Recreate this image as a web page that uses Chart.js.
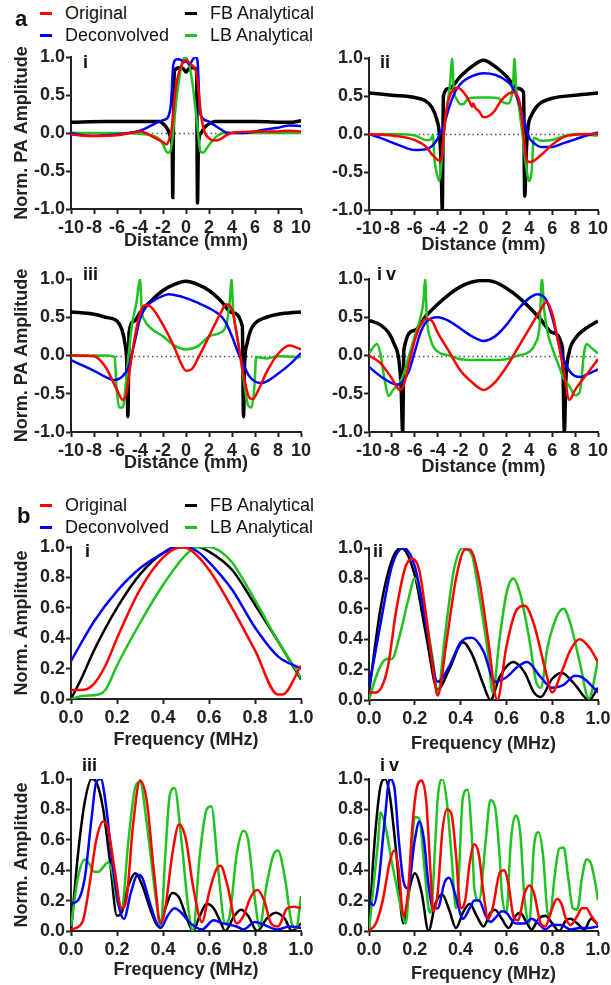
<!DOCTYPE html>
<html>
<head>
<meta charset="utf-8">
<script src="https://cdn.jsdelivr.net/npm/chart.js@4.4.1/dist/chart.umd.min.js"></script>
<style>
  body { margin: 0; background: #fff; width: 611px; height: 985px; position: relative; overflow: hidden;
         font-family: "Liberation Sans", Arial, sans-serif; color: #111; }
  canvas { position: absolute; }
  .lab { position: absolute; font-weight: bold; line-height: 1; white-space: nowrap; }
  .leg { position: absolute; font-size: 18px; line-height: 1; white-space: nowrap; }
  .leg i { display: inline-block; width: 12px; height: 2.5px; vertical-align: middle; margin-right: 13px; position: relative; top: -1px; }
</style>
</head>
<body>

<script>
// ---- data (x, y pairs) ----

// a-i
const a1Orig = [[-10,-0.02],[-8,-0.04],[-6,-0.03],[-4.5,0.01],[-4,0.02],[-3.5,0],[-3,-0.04],[-2.5,-0.08],[-2,-0.12],[-1.7,-0.15],[-1.4,-0.05],[-1.2,0.1],[-1,0.45],[-0.7,0.75],[-0.3,0.92],[0,0.96],[0.3,0.92],[0.6,0.88],[0.9,0.8],[1.1,0.55],[1.3,0.25],[1.6,0.02],[2,-0.07],[2.5,-0.1],[3,-0.08],[3.5,-0.03],[4,0],[6,0.02],[8,0.02],[9,0.03],[10,0.02]];
const a1Deconv = [[-10,0],[-9,-0.03],[-8,-0.04],[-7,-0.03],[-6,-0.02],[-5,0],[-4,0.03],[-3,0.1],[-2,0.17],[-1.6,0.2],[-1.3,0.4],[-1.1,0.9],[-0.8,0.97],[-0.4,0.96],[-0.2,0.93],[0,0.95],[0.3,0.9],[0.6,0.97],[0.85,1.0],[1.0,0.95],[1.2,0.3],[1.4,0.2],[2,0.15],[2.5,0.1],[3,0.05],[3.7,0],[5,0],[6,0.02],[7,0.05],[8,0.07],[9,0.1],[10,0.09]];
const a1FB = [[-10,0.14],[-7,0.15],[-4,0.15],[-2.3,0.15],[-1.9,0.11],[-1.6,0.05],[-1.35,-0.05],[-1.2,-0.2],[-1.15,-0.85],[-1.08,0.3],[-1.0,0.82],[-0.6,0.86],[-0.25,0.85],[0,0.8],[0.25,0.85],[0.6,0.86],[0.92,0.83],[1.0,-0.92],[1.08,-0.15],[1.3,0.0],[1.6,0.07],[2.0,0.12],[2.5,0.15],[6,0.15],[9,0.14],[10,0.16]];
const a1LB = [[-10,0],[-6,0],[-4,-0.01],[-3,-0.03],[-2.5,-0.06],[-2.1,-0.12],[-1.8,-0.22],[-1.6,-0.26],[-1.4,-0.25],[-1.2,-0.1],[-1.0,0.2],[-0.7,0.6],[-0.4,0.88],[-0.1,1.0],[0.2,0.93],[0.5,0.72],[0.8,0.35],[1.05,0],[1.25,-0.24],[1.5,-0.26],[1.8,-0.2],[2.2,-0.12],[2.7,-0.04],[3.3,0],[10,0]];

// a-ii
const a2Orig = [[-10,0],[-8,-0.02],[-7,-0.04],[-6,-0.08],[-5,-0.17],[-4.5,-0.27],[-4,-0.34],[-3.7,-0.35],[-3.5,-0.05],[-3.2,0.35],[-2.8,0.55],[-2.3,0.61],[-2,0.59],[-1.5,0.5],[-1.2,0.42],[-1,0.36],[-0.9,0.4],[-0.7,0.34],[-0.4,0.3],[0,0.22],[0.5,0.24],[1,0.31],[1.5,0.43],[2,0.51],[2.5,0.55],[2.9,0.52],[3.2,0.38],[3.5,0],[3.7,-0.3],[4,-0.37],[4.3,-0.36],[5,-0.28],[6,-0.14],[7,-0.04],[8,-0.01],[10,0]];
const a2Deconv = [[-10,0],[-9,-0.05],[-8,-0.11],[-7,-0.17],[-6,-0.21],[-5,-0.2],[-4.5,-0.16],[-4,-0.06],[-3.5,0.1],[-3,0.35],[-2.5,0.55],[-2,0.66],[-1,0.76],[0,0.8],[1,0.78],[2,0.7],[2.5,0.62],[3,0.45],[3.5,0.2],[4,-0.05],[4.5,-0.13],[5,-0.17],[6,-0.17],[7,-0.12],[8,-0.07],[9,-0.02],[10,0.02]];
const a2FB = [[-10,0.54],[-8,0.51],[-6,0.48],[-5,0.43],[-4.5,0.35],[-4.1,0.2],[-3.85,0],[-3.7,-0.4],[-3.6,-1.0],[-3.5,0.5],[-3,0.6],[-2,0.76],[-1,0.89],[0,0.97],[1,0.89],[2,0.76],[3,0.6],[3.5,0.55],[3.6,-0.82],[3.75,-0.2],[3.9,0.1],[4.2,0.25],[4.6,0.35],[5,0.41],[6,0.47],[8,0.51],[10,0.54]];
const a2LB = [[-10,-0.01],[-8,0],[-6,-0.02],[-5,-0.08],[-4.6,-0.07],[-4.4,-0.01],[-4.3,-0.3],[-4.1,-0.5],[-3.85,-0.62],[-3.65,-0.35],[-3.4,0.1],[-3.1,0.45],[-2.9,0.7],[-2.75,1.0],[-2.6,0.6],[-2.3,0.45],[-2,0.39],[-1.7,0.4],[-1.3,0.47],[-0.5,0.48],[0.5,0.48],[1.3,0.47],[1.7,0.42],[2.1,0.4],[2.4,0.46],[2.6,0.7],[2.7,1.0],[2.85,0.6],[3.1,0.35],[3.4,0.0],[3.7,-0.4],[4.0,-0.62],[4.2,-0.5],[4.4,-0.05],[4.6,-0.06],[5,-0.09],[6,-0.08],[7,-0.03],[8,0],[10,-0.02]];

// a-iii
const a3Orig = [[-10,0],[-8,-0.01],[-7,-0.15],[-6,-0.45],[-5.5,-0.58],[-5.2,-0.5],[-4.9,-0.2],[-4.5,0.2],[-4,0.55],[-3.5,0.66],[-3,0.63],[-2,0.4],[-1,0.1],[-0.5,-0.08],[0,-0.2],[0.5,-0.18],[1,-0.05],[2,0.25],[3,0.55],[3.5,0.67],[4,0.6],[4.5,0.2],[5,-0.25],[5.5,-0.55],[5.8,-0.57],[6.3,-0.45],[7,-0.22],[8,0.02],[9,0.13],[9.5,0.11],[10,0.08]];
const a3Deconv = [[-10,-0.06],[-9,-0.13],[-8,-0.2],[-7,-0.28],[-6.3,-0.32],[-5.5,-0.27],[-5,-0.15],[-4.5,0.15],[-4,0.48],[-3.5,0.63],[-3,0.7],[-2,0.78],[-1.5,0.8],[-1,0.79],[0,0.75],[1,0.69],[2,0.62],[3,0.52],[3.5,0.42],[4,0.25],[4.5,0.05],[5,-0.12],[5.5,-0.27],[6,-0.34],[6.5,-0.36],[7,-0.34],[8,-0.24],[9,-0.12],[10,0.03]];
const a3FB = [[-10,0.57],[-8,0.54],[-7,0.5],[-6,0.45],[-5.6,0.35],[-5.3,0.15],[-5.15,-0.1],[-5.05,-0.8],[-4.95,0.3],[-4.5,0.45],[-4,0.56],[-3,0.72],[-2,0.85],[-1,0.93],[0,0.97],[1,0.93],[2,0.85],[3,0.72],[4,0.56],[4.9,0.38],[5.0,-0.8],[5.1,-0.1],[5.3,0.15],[5.6,0.32],[6,0.42],[7,0.5],[8,0.54],[10,0.57]];
const a3LB = [[-10,0],[-7,0],[-6.2,-0.02],[-6.05,-0.4],[-5.8,-0.68],[-5.5,-0.68],[-5.25,-0.4],[-5,0],[-4.7,0.4],[-4.3,0.7],[-4.0,1.0],[-3.85,0.6],[-3.6,0.46],[-3,0.35],[-2,0.25],[-1,0.13],[0,0.08],[1,0.12],[2,0.25],[3,0.3],[3.5,0.4],[3.8,0.7],[3.95,1.0],[4.1,0.6],[4.5,0.2],[5,-0.3],[5.4,-0.65],[5.7,-0.68],[5.95,-0.4],[6.1,-0.02],[7,-0.04],[8,-0.01],[10,-0.02]];

// a-iv
const a4Orig = [[-10,0],[-9,-0.1],[-8,-0.3],[-7.3,-0.45],[-7,-0.4],[-6.5,-0.1],[-6,0.2],[-5.5,0.4],[-5,0.48],[-4.5,0.45],[-4,0.3],[-3,0.05],[-2,-0.2],[-1,-0.35],[0,-0.45],[1,-0.35],[2,-0.15],[3,0.1],[4,0.35],[5,0.6],[5.5,0.7],[6,0.55],[6.5,0.2],[7,-0.2],[7.5,-0.58],[8,-0.45],[9,-0.25],[10,-0.05]];
const a4Deconv = [[-10,-0.15],[-9,-0.27],[-8,-0.36],[-7.5,-0.38],[-7,-0.33],[-6.5,-0.2],[-6,0.05],[-5.5,0.3],[-5,0.44],[-4,0.5],[-3,0.45],[-2,0.35],[-1,0.25],[0,0.19],[1,0.25],[2,0.4],[3,0.6],[4,0.75],[4.7,0.8],[5.5,0.72],[6,0.5],[6.5,0.2],[7,-0.05],[7.5,-0.2],[8,-0.27],[8.5,-0.28],[9,-0.25],[10,-0.18]];
const a4FB = [[-10,0.46],[-9,0.4],[-8.3,0.3],[-7.8,0.15],[-7.4,-0.05],[-7.2,-0.4],[-7.06,-1.0],[-6.95,0.08],[-6,0.33],[-5,0.52],[-4,0.67],[-3,0.8],[-2,0.9],[-1,0.96],[0,0.98],[1,0.96],[2,0.88],[3,0.77],[4,0.63],[5,0.47],[6,0.3],[6.9,0.1],[7.06,-1.0],[7.2,-0.3],[7.5,0.05],[8,0.22],[9,0.36],[10,0.45]];
const a4LB = [[-10,0.03],[-9.3,0.15],[-9,0.02],[-8.6,-0.35],[-8.3,-0.53],[-7.9,-0.45],[-7.3,-0.35],[-7,-0.25],[-6.5,0],[-6,0.25],[-5.5,0.5],[-5.25,0.7],[-5.1,1.0],[-4.95,0.5],[-4.6,0.2],[-4,0.05],[-3,0],[-2,-0.05],[-1,-0.06],[0,-0.06],[1,-0.06],[2,-0.05],[3,0],[4,0.05],[4.5,0.15],[4.9,0.4],[5.1,1.0],[5.3,0.6],[5.6,0.3],[6,0.1],[6.5,-0.1],[7,-0.3],[7.5,-0.4],[8,-0.52],[8.4,-0.48],[8.8,0.05],[9,0.15],[9.5,0.09],[10,0.03]];

// b-i
const b1Orig = [[0,0.06],[0.05,0.06],[0.1,0.1],[0.15,0.22],[0.2,0.4],[0.3,0.72],[0.4,0.93],[0.48,1.0],[0.52,0.98],[0.6,0.85],[0.7,0.6],[0.8,0.32],[0.9,0.03],[0.92,0.03],[1.0,0.22]];
const b1Deconv = [[0,0.25],[0.1,0.51],[0.2,0.71],[0.3,0.86],[0.4,0.96],[0.45,1.0],[0.5,1.0],[0.55,0.97],[0.6,0.9],[0.7,0.72],[0.8,0.47],[0.9,0.28],[1.0,0.2]];
const b1FB = [[0,0.0],[0.05,0.15],[0.1,0.32],[0.2,0.6],[0.3,0.82],[0.4,0.96],[0.5,1.0],[0.55,1.0],[0.6,0.97],[0.7,0.85],[0.8,0.62],[0.9,0.38],[1.0,0.13]];
const b1LB = [[0,0.0],[0.05,0.02],[0.12,0.03],[0.15,0.06],[0.2,0.22],[0.3,0.5],[0.4,0.75],[0.5,0.95],[0.55,1.0],[0.6,1.0],[0.65,0.97],[0.7,0.9],[0.8,0.65],[0.9,0.38],[1.0,0.14]];

// b-ii
const b2Orig = [[0,0.05],[0.03,0.05],[0.08,0.2],[0.12,0.6],[0.16,0.88],[0.19,0.93],[0.22,0.85],[0.25,0.55],[0.28,0.2],[0.3,0.03],[0.34,0.4],[0.38,0.8],[0.42,0.99],[0.44,0.99],[0.48,0.8],[0.52,0.4],[0.56,0.0],[0.6,0.35],[0.64,0.58],[0.68,0.62],[0.72,0.5],[0.77,0.2],[0.8,0.05],[0.84,0.18],[0.88,0.33],[0.92,0.4],[0.96,0.35],[1.0,0.25]];
const b2Deconv = [[0,0.08],[0.05,0.5],[0.1,0.88],[0.15,1.0],[0.2,0.88],[0.25,0.5],[0.3,0.12],[0.35,0.22],[0.4,0.38],[0.45,0.41],[0.5,0.32],[0.55,0.12],[0.6,0.15],[0.65,0.22],[0.69,0.25],[0.75,0.15],[0.8,0.08],[0.85,0.1],[0.9,0.16],[0.93,0.15],[1.0,0.05]];
const b2FB = [[0,0.05],[0.05,0.6],[0.1,0.92],[0.14,1.0],[0.2,0.82],[0.25,0.42],[0.3,0.07],[0.35,0.2],[0.41,0.38],[0.45,0.3],[0.5,0.1],[0.53,0.0],[0.57,0.15],[0.63,0.25],[0.68,0.18],[0.72,0.05],[0.75,0.02],[0.8,0.14],[0.84,0.18],[0.9,0.1],[0.96,0.0],[1.0,0.08]];
const b2LB = [[0,0.0],[0.03,0.15],[0.06,0.25],[0.08,0.27],[0.1,0.27],[0.13,0.4],[0.17,0.65],[0.2,0.8],[0.24,0.6],[0.28,0.25],[0.3,0.04],[0.33,0.4],[0.37,0.85],[0.41,1.0],[0.45,0.95],[0.48,0.7],[0.52,0.3],[0.54,0.05],[0.57,0.4],[0.6,0.7],[0.63,0.8],[0.66,0.7],[0.7,0.4],[0.73,0.12],[0.75,0.08],[0.78,0.35],[0.82,0.55],[0.85,0.6],[0.88,0.5],[0.92,0.25],[0.96,0.01],[1.0,0.26]];

// b-iii
const b3Orig = [[0,0.01],[0.05,0.06],[0.08,0.3],[0.11,0.6],[0.14,0.72],[0.16,0.68],[0.19,0.4],[0.22,0.15],[0.24,0.2],[0.27,0.7],[0.3,0.99],[0.33,0.85],[0.36,0.4],[0.39,0.05],[0.41,0.15],[0.44,0.5],[0.47,0.7],[0.5,0.6],[0.53,0.3],[0.57,0.06],[0.6,0.25],[0.63,0.4],[0.65,0.43],[0.68,0.3],[0.72,0.05],[0.75,0.1],[0.78,0.22],[0.81,0.27],[0.84,0.2],[0.87,0.05],[0.9,0.03],[0.94,0.15],[0.97,0.16],[1.0,0.15]];
const b3Deconv = [[0,0.18],[0.03,0.2],[0.06,0.35],[0.09,0.75],[0.11,0.98],[0.13,1.0],[0.15,0.85],[0.18,0.45],[0.21,0.15],[0.23,0.08],[0.26,0.25],[0.29,0.37],[0.31,0.35],[0.34,0.2],[0.37,0.06],[0.39,0.02],[0.42,0.1],[0.45,0.15],[0.48,0.12],[0.52,0.05],[0.57,0.01],[0.62,0.07],[0.66,0.05],[0.72,0.03],[0.75,0.01],[0.8,0.06],[0.84,0.04],[0.9,0.01],[0.95,0.03],[1.0,0.02]];
const b3FB = [[0,0.0],[0.03,0.5],[0.06,0.85],[0.09,1.0],[0.11,0.98],[0.14,0.8],[0.17,0.45],[0.2,0.1],[0.22,0.12],[0.25,0.3],[0.28,0.38],[0.31,0.3],[0.35,0.12],[0.38,0.03],[0.41,0.15],[0.44,0.25],[0.47,0.22],[0.5,0.1],[0.53,0.0],[0.56,0.1],[0.59,0.18],[0.62,0.15],[0.65,0.06],[0.67,0.0],[0.71,0.1],[0.74,0.14],[0.77,0.1],[0.81,0.0],[0.85,0.08],[0.89,0.12],[0.93,0.08],[0.96,0.0],[1.0,0.05]];
const b3LB = [[0,0.03],[0.03,0.35],[0.06,0.47],[0.08,0.44],[0.1,0.39],[0.12,0.39],[0.14,0.42],[0.16,0.45],[0.18,0.38],[0.2,0.2],[0.22,0.15],[0.25,0.6],[0.28,0.95],[0.3,0.98],[0.33,0.7],[0.37,0.2],[0.39,0.03],[0.41,0.5],[0.43,0.9],[0.45,0.94],[0.48,0.6],[0.51,0.15],[0.53,0.0],[0.56,0.5],[0.59,0.8],[0.61,0.82],[0.64,0.4],[0.67,0.05],[0.69,0.1],[0.72,0.5],[0.75,0.66],[0.77,0.6],[0.8,0.2],[0.82,0.03],[0.85,0.3],[0.88,0.5],[0.9,0.53],[0.93,0.35],[0.96,0.05],[0.98,0.02],[1.0,0.23]];

// b-iv
const b4Orig = [[0,0.0],[0.03,0.05],[0.06,0.2],[0.09,0.45],[0.11,0.53],[0.13,0.4],[0.15,0.1],[0.17,0.25],[0.19,0.7],[0.21,0.95],[0.23,0.99],[0.25,0.85],[0.27,0.35],[0.28,0.13],[0.3,0.25],[0.32,0.65],[0.34,0.8],[0.36,0.77],[0.38,0.5],[0.4,0.15],[0.42,0.2],[0.44,0.45],[0.46,0.57],[0.48,0.5],[0.5,0.25],[0.52,0.08],[0.54,0.15],[0.57,0.38],[0.59,0.4],[0.61,0.3],[0.63,0.1],[0.65,0.07],[0.68,0.25],[0.7,0.3],[0.72,0.25],[0.75,0.05],[0.77,0.03],[0.8,0.15],[0.82,0.21],[0.84,0.18],[0.86,0.08],[0.88,0.04],[0.91,0.1],[0.93,0.15],[0.95,0.15],[0.97,0.1],[1.0,0.04]];
const b4Deconv = [[0,0.2],[0.02,0.17],[0.04,0.3],[0.07,0.75],[0.09,1.0],[0.11,0.95],[0.13,0.6],[0.15,0.33],[0.17,0.28],[0.2,0.6],[0.22,0.72],[0.24,0.6],[0.26,0.3],[0.28,0.15],[0.3,0.15],[0.33,0.32],[0.35,0.35],[0.38,0.22],[0.41,0.08],[0.44,0.15],[0.46,0.2],[0.48,0.2],[0.51,0.1],[0.53,0.06],[0.56,0.1],[0.58,0.13],[0.6,0.12],[0.64,0.05],[0.68,0.05],[0.71,0.08],[0.74,0.05],[0.77,0.01],[0.8,0.04],[0.84,0.04],[0.88,0.01],[0.92,0.02],[0.96,0.02],[1.0,0.03]];
const b4FB = [[0,0.0],[0.02,0.5],[0.05,0.95],[0.07,1.0],[0.09,0.9],[0.12,0.5],[0.15,0.05],[0.18,0.3],[0.2,0.38],[0.23,0.25],[0.26,0.0],[0.29,0.18],[0.32,0.24],[0.35,0.14],[0.38,0.02],[0.41,0.12],[0.44,0.18],[0.47,0.1],[0.5,0.03],[0.53,0.12],[0.55,0.14],[0.58,0.08],[0.61,0.02],[0.64,0.1],[0.66,0.12],[0.69,0.05],[0.71,0.01],[0.74,0.08],[0.77,0.1],[0.8,0.05],[0.83,0.0],[0.86,0.07],[0.88,0.08],[0.91,0.05],[0.94,0.01],[0.97,0.08],[1.0,0.04]];
const b4LB = [[0,0.0],[0.02,0.3],[0.04,0.6],[0.05,0.78],[0.07,0.7],[0.1,0.45],[0.12,0.3],[0.14,0.15],[0.16,0.05],[0.18,0.4],[0.2,0.75],[0.22,0.74],[0.24,0.45],[0.26,0.15],[0.27,0.12],[0.29,0.6],[0.3,0.87],[0.32,1.0],[0.34,0.85],[0.36,0.5],[0.38,0.15],[0.39,0.3],[0.41,0.88],[0.43,0.93],[0.45,0.6],[0.46,0.28],[0.48,0.2],[0.51,0.6],[0.53,0.86],[0.55,0.82],[0.57,0.5],[0.58,0.25],[0.6,0.12],[0.62,0.6],[0.64,0.76],[0.66,0.65],[0.68,0.2],[0.7,0.05],[0.72,0.55],[0.74,0.65],[0.76,0.5],[0.78,0.12],[0.79,0.1],[0.81,0.35],[0.83,0.54],[0.85,0.55],[0.87,0.35],[0.89,0.15],[0.91,0.14],[0.93,0.35],[0.95,0.47],[0.97,0.44],[0.99,0.3],[1.0,0.2]];

const seriesNames = ['Original', 'Deconvolved', 'FB Analytical', 'LB Analytical'];
const seriesColors = ['#ff0000', '#0000ff', '#000000', '#1fc21f'];
const distTicks = [-10, 10, 2];
const freqTicks = [0, 1, 0.2];

// ---- drawing ----
const FONT = '"Liberation Sans", Arial, sans-serif';
Chart.defaults.font.family = FONT;

// dotted zero line across panels a
const zeroLine = {
  id: 'zeroLine',
  beforeDatasetsDraw(chart, args, opts) {
    if (!opts.show) return;
    const { ctx, chartArea, scales } = chart;
    const py = Math.round(scales.y.getPixelForValue(0)) + 0.5;
    ctx.save();
    ctx.setLineDash([1.5, 3]);
    ctx.strokeStyle = '#555';
    ctx.lineWidth = 1.5;
    ctx.beginPath();
    ctx.moveTo(chartArea.left, py);
    ctx.lineTo(chartArea.right, py);
    ctx.stroke();
    ctx.restore();
  }
};

function addText(txt, cls, x, y, size, extra) {
  const d = document.createElement('div');
  d.className = cls;
  d.textContent = txt;
  d.style.left = x + 'px';
  d.style.top = y + 'px';
  if (size) d.style.fontSize = size + 'px';
  if (extra) Object.assign(d.style, extra);
  document.body.appendChild(d);
}

function addLegend(y1, y2) {
  const rows = [[0, 40, y1], [1, 40, y2], [2, 185, y1], [3, 185, y2]];
  rows.forEach(([i, x, y]) => {
    const d = document.createElement('div');
    d.className = 'leg';
    d.style.left = x + 'px';
    d.style.top = (y - 9) + 'px';
    d.innerHTML = '<i style="background:' + seriesColors[i] + '"></i>' + seriesNames[i];
    document.body.appendChild(d);
  });
}

function makePanel(g, kind, lines) {
  const xh = 60;           // height given to x axis (ticks + title)
  const yw = g.L - g.left; // width given to y axis
  const top = g.T - 14;
  const w = g.R + 20 - g.left;
  const h = g.B + xh - top;
  const cv = document.createElement('canvas');
  cv.width = w; cv.height = h;
  cv.style.left = g.left + 'px'; cv.style.top = top + 'px';
  cv.style.width = w + 'px'; cv.style.height = h + 'px';
  document.body.appendChild(cv);

  const isA = kind === 'a';
  const xt = isA ? distTicks : freqTicks;
  const tickFont = { family: FONT, size: 18, weight: 'bold' };
  const axisCommon = {
    grid: { display: true, drawOnChartArea: false, drawTicks: true, tickLength: 5, tickWidth: 2, tickColor: '#222' },
    border: { display: true, color: '#222', width: 2 }
  };

  const order = [0, 1, 3, 2]; // red on top, black at the bottom
  const datasets = order.map(i => ({
    label: seriesNames[i],
    data: lines[i].map(p => ({ x: p[0], y: p[1] })),
    borderColor: seriesColors[i],
    borderWidth: (i === 2 && isA) ? 3.5 : 2.5,
    pointRadius: 0,
    fill: false,
    cubicInterpolationMode: 'monotone'
  }));

  new Chart(cv, {
    type: 'line',
    data: { datasets },
    plugins: [zeroLine],
    options: {
      responsive: false,
      animation: false,
      devicePixelRatio: 1,
      layout: { padding: { top: 14, right: 20, left: 0, bottom: 0 } },
      plugins: { legend: { display: false }, tooltip: { enabled: false }, zeroLine: { show: isA } },
      scales: {
        x: {
          type: 'linear', min: xt[0], max: xt[1],
          ...axisCommon,
          ticks: {
            stepSize: xt[2], autoSkip: false, maxRotation: 0, minRotation: 0,
            color: '#222', font: tickFont, padding: 3,
            callback: v => isA ? String(Math.round(v)) : v.toFixed(1)
          },
          title: {
            display: true, text: isA ? 'Distance (mm)' : 'Frequency (MHz)', color: '#222',
            font: { family: FONT, size: 18, weight: 'bold' },
            padding: { top: 0, bottom: g.B + xh - g.ty - 10.8 }
          },
          afterFit: s => { s.height = xh; }
        },
        y: {
          type: 'linear', min: isA ? -1 : 0, max: 1,
          ...axisCommon,
          ticks: {
            stepSize: isA ? 0.5 : 0.2, color: '#222', font: tickFont, padding: 1,
            callback: v => v.toFixed(1)
          },
          title: {
            display: !!g.yTitle, text: isA ? 'Norm. PA Amplitude' : 'Norm. Amplitude', color: '#222',
            font: { family: FONT, size: 18, weight: 'bold' },
            padding: { top: 11, bottom: 0 }
          },
          afterFit: s => { s.width = yw; }
        }
      }
    }
  });
}

// panel frames (chart area in page pixels)
const frames = {
  a1: { left: 0,   L: 71,  T: 57,  R: 301, B: 209, ty: 241, yTitle: true },
  a2: { left: 300, L: 369, T: 58,  R: 598, B: 210, ty: 245 },
  a3: { left: 0,   L: 71,  T: 279, R: 301, B: 432, ty: 463, yTitle: true },
  a4: { left: 300, L: 369, T: 279, R: 598, B: 432, ty: 467 },
  b1: { left: 0,   L: 71,  T: 547, R: 301, B: 699, ty: 740, yTitle: true },
  b2: { left: 300, L: 369, T: 548, R: 598, B: 700, ty: 744 },
  b3: { left: 0,   L: 71,  T: 779, R: 301, B: 931, ty: 970, yTitle: true },
  b4: { left: 300, L: 369, T: 779, R: 598, B: 931, ty: 974 }
};

makePanel(frames.a1, 'a', [a1Orig, a1Deconv, a1FB, a1LB]);
makePanel(frames.a2, 'a', [a2Orig, a2Deconv, a2FB, a2LB]);
makePanel(frames.a3, 'a', [a3Orig, a3Deconv, a3FB, a3LB]);
makePanel(frames.a4, 'a', [a4Orig, a4Deconv, a4FB, a4LB]);
makePanel(frames.b1, 'b', [b1Orig, b1Deconv, b1FB, b1LB]);
makePanel(frames.b2, 'b', [b2Orig, b2Deconv, b2FB, b2LB]);
makePanel(frames.b3, 'b', [b3Orig, b3Deconv, b3FB, b3LB]);
makePanel(frames.b4, 'b', [b4Orig, b4Deconv, b4FB, b4LB]);

addLegend(13, 35);
addLegend(505, 527);

addText('a', 'lab', 15, 8, 22);
addText('b', 'lab', 17, 505, 22);
addText('i', 'lab', 83, 53, 18);
addText('ii', 'lab', 380, 53, 18);
addText('iii', 'lab', 83, 265, 18);
addText('iv', 'lab', 377, 265, 18, { letterSpacing: '4px' });
addText('i', 'lab', 85, 542, 18);
addText('ii', 'lab', 373, 542, 18);
addText('iii', 'lab', 82, 756, 18);
addText('iv', 'lab', 380, 756, 18, { letterSpacing: '4px' });
</script>
</body>
</html>
